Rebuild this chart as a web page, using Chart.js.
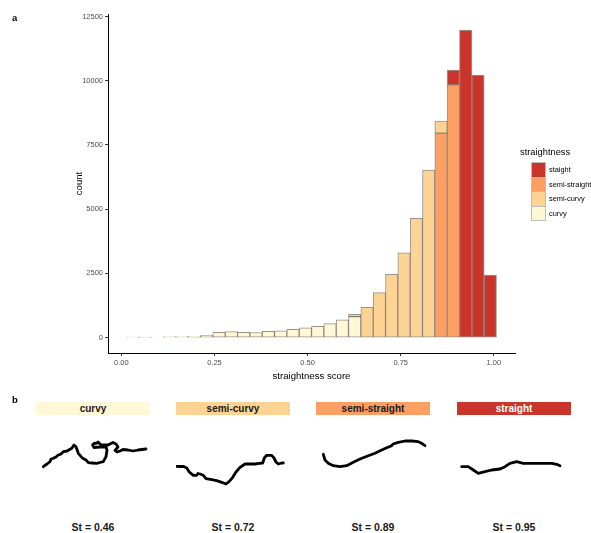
<!DOCTYPE html>
<html>
<head>
<meta charset="utf-8">
<script src="https://cdn.jsdelivr.net/npm/chart.js@4.4.1/dist/chart.umd.min.js"></script>
<style>
  body { margin: 0; background: #fff; font-family: "Liberation Sans", Arial, sans-serif; }
  #wrap { position: relative; width: 591px; height: 533px; overflow: hidden; background: #fff; }
  .abs { position: absolute; white-space: nowrap; }
  .tag { font-weight: bold; font-size: 9.5px; color: #000; }
  .strip { position: absolute; top: 402px; height: 13px; width: 114px; text-align: center;
           font-weight: bold; font-size: 10px; line-height: 13px; color: #1a1a1a; }
  .st { position: absolute; top: 521px; width: 114px; text-align: center; font-weight: bold; font-size: 10.5px; color: #1a1a1a; }
  .leg-title { font-size: 9.3px; color: #000; }
  .leg-key { position: absolute; width: 12.5px; height: 13.5px; border: 0.5px solid #bdbdbd; }
  .leg-lab { font-size: 7.4px; color: #000; }
</style>
</head>
<body>
<div id="wrap">
  <canvas id="hist" width="591" height="395" style="position:absolute;left:0;top:0"></canvas>
  <div class="abs tag" style="left:12px;top:12px">a</div>
  <div class="abs tag" style="left:12px;top:394px">b</div>
  <div id="legend"></div>
  <div id="panelB"></div>
</div>
<script>
// histogram bins (centre of each bin, straightness score)
const binCentres = [0.0306, 0.0637, 0.0968, 0.1299, 0.1630, 0.1961, 0.2292, 0.2623, 0.2954, 0.3285,
                    0.3616, 0.3947, 0.4278, 0.4609, 0.4940, 0.5271, 0.5602, 0.5933, 0.6264, 0.6595,
                    0.6926, 0.7257, 0.7588, 0.7919, 0.8250, 0.8581, 0.8912, 0.9243, 0.9574, 0.9905];

// counts per class (null = nothing in that bin)
const curvy        = [3, 8, 15, 35, 40, 52, 90, 200, 235, 207, 197, 240, 262, 323, 380, 440, 544, 692, 816,
                      null, null, null, null, null, null, null, null, null, null, null];
const semiCurvy    = [null, null, null, null, null, null, null, null, null, null, null, null, null, null, null,
                      null, null, null, 89, 1177, 1748, 2459, 3302, 4647, 6527, 466, null, null, null, null];
const semiStraight = [null, null, null, null, null, null, null, null, null, null, null, null, null, null, null,
                      null, null, null, null, null, null, null, null, null, null, 7964, 9841, null, null, null];
const straight     = [null, null, null, null, null, null, null, null, null, null, null, null, null, null, null,
                      null, null, null, null, null, null, null, null, null, null, null, 571, 11978, 10218, 2433];

const xTicks = [0, 0.25, 0.5, 0.75, 1];
const yTicks = [0, 2500, 5000, 7500, 10000, 12500];

// legend order as in the figure (label typo kept)
const legendLabels = ['staight', 'semi-straight', 'semi-curvy', 'curvy'];
const classColours = { straight: '#C9352B', semiStraight: '#FC9F63', semiCurvy: '#FDD393', curvy: '#FFF7D6' };
const legendColours = [classColours.straight, classColours.semiStraight, classColours.semiCurvy, classColours.curvy];

// panel b: example tracks, local coordinates (x right, y down)
const stripLabels = ['curvy', 'semi-curvy', 'semi-straight', 'straight'];
const stripScores = ['St = 0.46', 'St = 0.72', 'St = 0.89', 'St = 0.95'];
const trackCurvy = [[7.3,36.7],[11,34],[14,31.7],[15,29],[17.3,28.3],[20,27],[22.3,25],[25,24],[27.3,21.7],[31,21],
  [34,19.3],[36,18],[38,15],[40,16.7],[42.3,23.3],[46.7,28.3],[50,30],[52.3,32.7],[56,33],[60.7,33.3],[64,32.5],
  [67.3,31.7],[70,26.7],[71,20],[70,17],[64,17],[58,17.5],[56.5,15],[58,13.5],[61,13],[62,12],[65,15],[72,15],
  [75,13.5],[77,12.5],[80,14],[82,17],[79,20.5],[81,22],[84,21],[87,19.5],[92,20],[97,21],[102,20],[110,19]];
const trackSemiCurvy = [[0.7,36.3],[4,36.5],[7.3,36.3],[10.7,38],[13.3,42],[17.3,45.3],[20.7,45.3],[22,43.5],
  [24,44],[27.3,45.3],[30,48.7],[35.7,49.7],[40.7,50.7],[45.7,52.3],[50,54],[53.3,51.3],[56.7,47.3],[60,42],
  [64,37.3],[69,34],[74,34],[79,34],[83.3,33.3],[86.7,33],[88.3,28],[90.7,25.3],[95.7,25.3],[98,28],[100,32],
  [102.3,34],[105.7,33],[107.3,33]];
const trackSemiStraight = [[7.3,24.3],[9,30],[12.3,33.3],[17.3,35.7],[24,36.7],[30.7,35.7],[37.3,32.3],[44,29],
  [52.3,25.7],[59,23.3],[65.7,20],[70.7,17.7],[75.7,15.7],[77,14],[82.3,12.3],[89,11],[95.7,11],[102.3,11.7],
  [105.7,13.3],[109,15.7]];
const trackStraight = [[4.7,36.7],[11.3,36.7],[16.3,40],[21.3,43.3],[28,41.7],[34.7,40],[43,39],[48,36.7],[53,33.3],
  [59.7,31.7],[66.3,33.3],[74.7,33.3],[84.7,33.3],[94.7,33.3],[99.7,34.3],[103,35.7]];
const tracks = [trackCurvy, trackSemiCurvy, trackSemiStraight, trackStraight];
const stripLefts = [36, 176, 316, 457];

const FONT = '"Liberation Sans", Arial, sans-serif';
const outline = 'rgba(70,58,50,0.55)';

function toPoints(values) {
  return binCentres.map((x, i) => ({ x: x, y: values[i] }));
}

function barSet(label, values, colour) {
  return {
    label: label,
    data: toPoints(values),
    backgroundColor: colour,
    borderColor: outline,
    borderWidth: 1,
    borderSkipped: false,
    barPercentage: 1,
    categoryPercentage: 1
  };
}

// stacking order bottom -> top
new Chart(document.getElementById('hist'), {
  type: 'bar',
  data: {
    datasets: [
      barSet('curvy', curvy, classColours.curvy),
      barSet('semi-straight', semiStraight, classColours.semiStraight),
      barSet('semi-curvy', semiCurvy, classColours.semiCurvy),
      barSet('staight', straight, classColours.straight)
    ]
  },
  options: {
    responsive: false,
    animation: false,
    events: [],
    layout: { padding: { top: 14, right: 76, left: 0, bottom: 0 } },
    plugins: { legend: { display: false }, tooltip: { enabled: false } },
    scales: {
      x: {
        type: 'linear',
        stacked: true,
        offset: false,
        min: -0.0357,
        max: 1.0567,
        afterFit: s => { s.height = 42; },
        afterBuildTicks: s => { s.ticks = xTicks.map(v => ({ value: v })); },
        ticks: { callback: v => v.toFixed(2), font: { family: FONT, size: 7.5 }, color: '#4d4d4d',
                 padding: 2, maxRotation: 0, autoSkip: false },
        grid: { offset: false, drawOnChartArea: false, tickLength: 3, color: '#333' },
        border: { color: '#000', width: 1 },
        title: { display: true, text: 'straightness score', color: '#000',
                 font: { family: FONT, size: 9.6 }, padding: { top: 0, bottom: 12.5 } }
      },
      y: {
        stacked: true,
        min: -600,
        max: 12600,
        afterFit: s => { s.width = 108; },
        afterBuildTicks: s => { s.ticks = yTicks.map(v => ({ value: v })); },
        ticks: { callback: v => String(v), font: { family: FONT, size: 7.5 }, color: '#4d4d4d', padding: 2 },
        grid: { drawOnChartArea: false, tickLength: 3, color: '#333' },
        border: { color: '#000', width: 1 },
        title: { display: true, text: 'count', color: '#000',
                 font: { family: FONT, size: 9.6 }, padding: { top: 74, bottom: 0 } }
      }
    }
  }
});

// legend
const legend = document.getElementById('legend');
let html = '<div class="abs leg-title" style="left:520px;top:147px">straightness</div>';
legendLabels.forEach((lab, i) => {
  const top = 162 + i * 14.5;
  html += '<div class="leg-key" style="left:531px;top:' + top + 'px;background:' + legendColours[i] + '"></div>';
  html += '<div class="abs leg-lab" style="left:549px;top:' + (top + 3) + 'px">' + lab + '</div>';
});
legend.innerHTML = html;

// panel b
const panelB = document.getElementById('panelB');
const stripColours = [classColours.curvy, classColours.semiCurvy, classColours.semiStraight, classColours.straight];
stripLabels.forEach((lab, i) => {
  const left = stripLefts[i];
  const s = document.createElement('div');
  s.className = 'strip';
  s.style.left = left + 'px';
  s.style.background = stripColours[i];
  if (i === 3) s.style.color = '#fff';
  s.textContent = lab;
  panelB.appendChild(s);

  const t = document.createElement('div');
  t.className = 'st';
  t.style.left = left + 'px';
  t.textContent = stripScores[i];
  panelB.appendChild(t);

  const c = document.createElement('canvas');
  c.width = 114; c.height = 60;
  c.style.cssText = 'position:absolute;top:430px;left:' + left + 'px';
  panelB.appendChild(c);

  new Chart(c, {
    type: 'scatter',
    data: { datasets: [{
      data: tracks[i].map(p => ({ x: p[0], y: p[1] })),
      showLine: true,
      borderColor: '#000',
      borderWidth: 2.8,
      borderJoinStyle: 'round',
      borderCapStyle: 'round',
      pointRadius: 0,
      tension: 0,
      clip: false
    }] },
    options: {
      responsive: false,
      animation: false,
      events: [],
      plugins: { legend: { display: false }, tooltip: { enabled: false } },
      scales: {
        x: { type: 'linear', min: 0, max: 114, display: false },
        y: { type: 'linear', min: 0, max: 60, reverse: true, display: false }
      }
    }
  });
});
</script>
</body>
</html>
